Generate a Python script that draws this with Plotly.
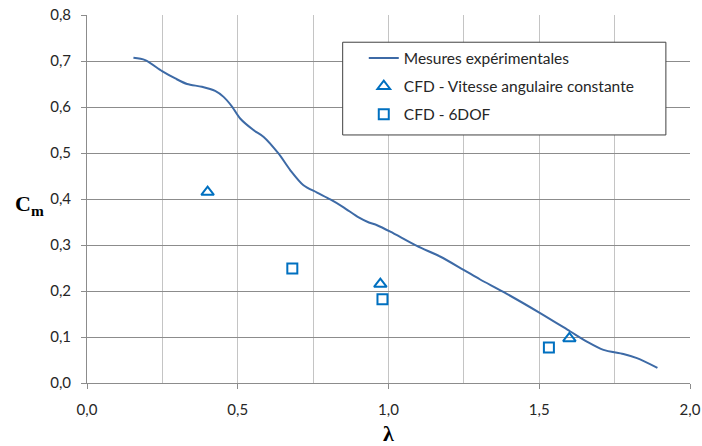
import plotly.graph_objects as go

exp_x = [0.154, 0.193, 0.249, 0.293, 0.332, 0.381, 0.425, 0.453, 0.481, 0.508, 0.552, 0.586,
         0.635, 0.674, 0.718, 0.763, 0.807, 0.851, 0.901, 0.935, 0.962, 1.006, 1.094, 1.171,
         1.249, 1.304, 1.381, 1.503, 1.603, 1.658, 1.713, 1.779, 1.824, 1.892]
exp_y = [0.707, 0.702, 0.678, 0.662, 0.650, 0.644, 0.635, 0.622, 0.601, 0.575, 0.550, 0.535,
         0.499, 0.463, 0.430, 0.414, 0.399, 0.382, 0.360, 0.349, 0.343, 0.329, 0.298, 0.275,
         0.246, 0.225, 0.198, 0.152, 0.112, 0.090, 0.072, 0.063, 0.054, 0.033]

# CFD - constant angular velocity
cst_x = [0.40, 0.973, 1.60]
cst_y = [0.415, 0.215, 0.097]

# CFD - 6DOF
dof_x = [0.681, 0.980, 1.532]
dof_y = [0.249, 0.182, 0.077]

x_ticks = [0.0, 0.5, 1.0, 1.5, 2.0]

fig = go.Figure()
fig.add_trace(go.Scatter(x=exp_x, y=exp_y, mode="lines", name="Mesures expérimentales",
                         line=dict(color="#3d6aa6", width=2, shape="spline", smoothing=0.8),
                         legendgroup="a"))
fig.add_trace(go.Scatter(x=cst_x, y=cst_y, mode="markers", name="CFD - Vitesse angulaire constante",
                         marker=dict(symbol="triangle-up-open", size=11, color="#0070c0",
                                     line=dict(width=2, color="#0070c0")),
                         legendgroup="b"))
fig.add_trace(go.Scatter(x=dof_x, y=dof_y, mode="markers", name="CFD - 6DOF",
                         marker=dict(symbol="square-open", size=10, color="#0070c0",
                                     line=dict(width=2, color="#0070c0")),
                         legendgroup="c"))

# legend frame
fig.add_shape(type="rect", xref="paper", yref="paper", x0=0.424, x1=0.960, y0=0.674, y1=0.926,
              fillcolor="white", line=dict(color="#404040", width=1), layer="above")

fig.update_layout(
    width=702, height=446,
    margin=dict(l=87, r=12, t=15, b=63, autoexpand=False),
    plot_bgcolor="white", paper_bgcolor="white",
    separators=", ",
    font=dict(family="Lato, Noto Sans, sans-serif", size=15, color="#262626"),
    showlegend=True,
    legend=dict(x=0.459, y=0.928, xanchor="left", yanchor="top",
                bgcolor="rgba(0,0,0,0)", borderwidth=0,
                font=dict(size=15.5, color="#262626"),
                traceorder="grouped", tracegroupgap=5,
                itemwidth=30),
    xaxis=dict(range=[0, 2.0], tickvals=x_ticks, tickformat=".1f", automargin=False,
               showgrid=True, gridcolor="#c4c4c4", gridwidth=1,
               minor=dict(dtick=0.25, tick0=0, showgrid=True, gridcolor="#c4c4c4", gridwidth=1),
               ticks="outside", ticklen=5, tickcolor="#8c8c8c",
               showline=True, linecolor="#8c8c8c", linewidth=1, zeroline=False,
               ticklabelstandoff=8),
    yaxis=dict(range=[0, 0.8], dtick=0.1, tick0=0, tickformat=".1f", automargin=False,
               showgrid=True, gridcolor="#8c8c8c", gridwidth=1,
               ticks="outside", ticklen=5, tickcolor="#8c8c8c",
               showline=True, linecolor="#8c8c8c", linewidth=1, zeroline=False,
               ticklabelstandoff=7),
)

fig.add_annotation(text="<b>C<sub>m</sub></b>", xref="paper", yref="paper",
                   x=-0.095, y=0.485, xanchor="center", yanchor="middle", showarrow=False,
                   font=dict(family="Liberation Serif, Times New Roman, serif", size=22, color="black"))
fig.add_annotation(text="<b>λ</b>", xref="paper", yref="paper",
                   x=0.5, y=-0.137, xanchor="center", yanchor="middle", showarrow=False,
                   font=dict(family="Liberation Serif, Times New Roman, serif", size=22, color="black"))

fig.write_html("out.html")
